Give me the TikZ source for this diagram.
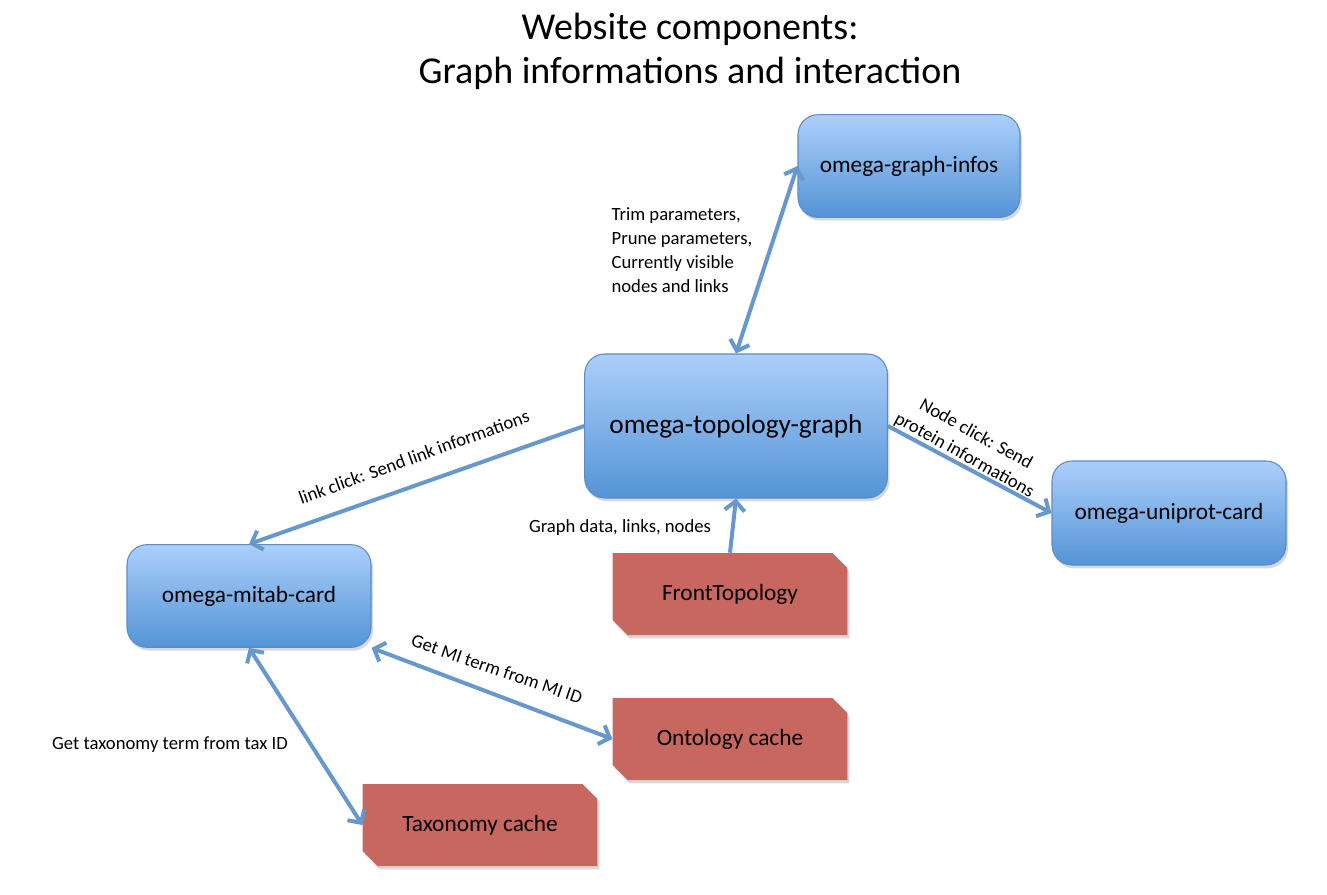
\documentclass[tikz,border=0pt]{standalone}
\usepackage{fontspec}
\setmainfont{Carlito}
\usepackage{tikz}
\usetikzlibrary{arrows.meta,shapes.misc,shadows,positioning}
\usepackage{xcolor}
\definecolor{cardtop}{RGB}{172,207,251}
\definecolor{cardbottom}{RGB}{84,148,214}
\definecolor{cardline}{RGB}{92,140,200}
\definecolor{cachered}{RGB}{200,102,96}
\definecolor{flowblue}{RGB}{102,152,206}
\tikzstyle{card} = [rectangle, rounded corners=15pt, draw=cardline, line width=0.8pt,
  top color=cardtop, bottom color=cardbottom,
  drop shadow={shadow xshift=1.5pt, shadow yshift=-2.5pt, opacity=0.3},
  font=\fontsize{17.5}{21}\selectfont]
\tikzstyle{cache} = [chamfered rectangle, chamfered rectangle corners={north east,south west},
  chamfered rectangle xsep=8pt, fill=cachered, minimum width=176pt, minimum height=61.5pt,
  drop shadow={shadow xshift=1.5pt, shadow yshift=-2.5pt, opacity=0.3},
  font=\fontsize{17.5}{21}\selectfont]
\tikzstyle{flow} = [line width=3pt, color=flowblue, -{Straight Barb[length=7pt,width=15pt]}]
\tikzstyle{flowboth} = [line width=3pt, color=flowblue,
  {Straight Barb[length=7pt,width=15pt]}-{Straight Barb[length=7pt,width=15pt]}]
\tikzstyle{lbl} = [font=\fontsize{14}{18}\selectfont, inner sep=1pt]

\begin{document}
\begin{tikzpicture}[x=0.75pt, y=0.75pt]
\useasboundingbox (0,0) rectangle (1327,-894);
% Title
\node[font=\fontsize{28.5}{33}\selectfont, align=center] (title) at (690,-51)
  {Website components:\\Graph informations and interaction};

% Components
\node[card, minimum width=166.5pt, minimum height=77pt] (infos) at (909,-166) {omega-graph-infos};
\node[card, minimum width=227pt, minimum height=108pt, font=\fontsize{20.5}{24}\selectfont] (topo) at (736,-426) {omega-topology-graph};
\node[card, minimum width=175.5pt, minimum height=78pt] (uniprot) at (1169,-513) {omega-uniprot-card};
\node[card, minimum width=183pt, minimum height=77pt] (mitab) at (249,-596) {omega-mitab-card};

% Caches
\node[cache] (front) at (730,-594) {FrontTopology};
\node[cache] (onto) at (730,-739) {Ontology cache};
\node[cache] (taxo) at (480,-825) {Taxonomy cache};

% Arrows
\draw[flowboth] (infos.west) -- (topo.north);
\draw[flow] (topo.west) -- (mitab.north);
\draw[flow] (topo.east) -- (uniprot.west);
\draw[flow] (front.north) -- (topo.south);
\draw[flowboth] (mitab.south east) -- (onto.west);
\draw[flowboth] (mitab.south) -- (taxo.west);

% Labels
\node[lbl, align=left, anchor=north west] (trimlbl) at (610,-206)
  {Trim parameters,\\Prune parameters,\\Currently visible\\nodes and links};
\node[lbl, rotate=20] (linklbl) at (414,-457) {link click: Send link informations};
\node[lbl, rotate=-29, align=center] (nodelbl) at (970,-445) {Node click: Send\\protein informations};
\node[lbl] (datalbl) at (620,-528) {Graph data, links, nodes};
\node[lbl, rotate=-19] (milbl) at (497,-669) {Get MI term from MI ID};
\node[lbl] (taxlbl) at (170,-745) {Get taxonomy term from tax ID};
\end{tikzpicture}
\end{document}
